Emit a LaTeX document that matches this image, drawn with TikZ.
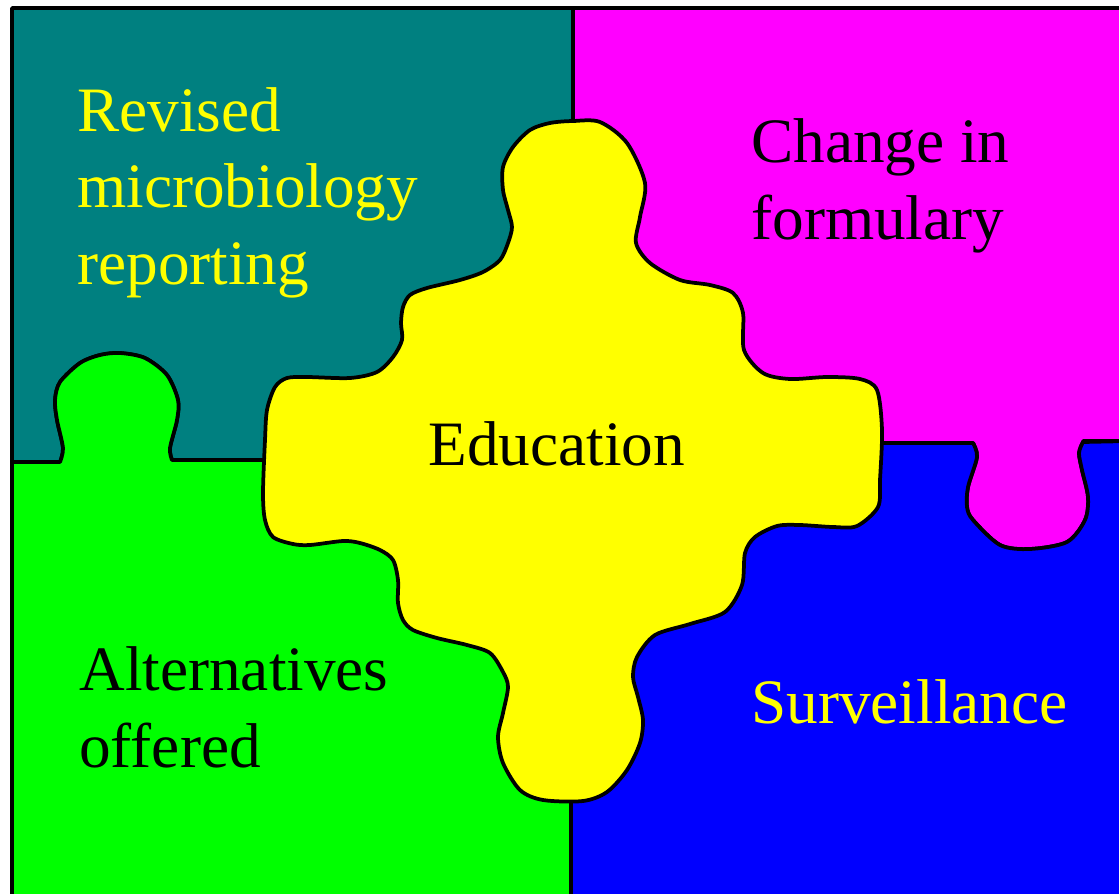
\documentclass[tikz,border=0pt]{standalone}
\usepackage{fontspec}
\setmainfont{Liberation Serif}
\usepackage{tikz}
\usetikzlibrary{positioning}
\usepackage{xcolor}
\definecolor{pzteal}{HTML}{008080}
\definecolor{pzmagenta}{HTML}{FF00FF}
\definecolor{pzgreen}{HTML}{00FF00}
\definecolor{pzblue}{HTML}{0000FF}
\definecolor{pzyellow}{HTML}{FFFF00}

\begin{document}
\begin{tikzpicture}[
    x=0.02cm, y=-0.02cm,
    piece/.style={fill=#1, draw=black, line width=0.075cm, line join=round},
    label/.style={font=\fontsize{36}{43.5}\selectfont, align=left, inner sep=0pt, anchor=base west},
]
\useasboundingbox (0,0) rectangle (1119,893);
\clip (0,0) rectangle (1119,893);
\coordinate (mid) at (571,452);

% top left
\path[piece=pzteal] (12,8) -- (573,8) -- (573,200) -- (mid) -- (300,460) -- (172,460)
    -- plot[smooth] coordinates {(172,460) (170,448) (177,420) (178,400) (167,375) (145,358) (120,353) (100,355) (80,363) (60,382) (55,400) (57,420) (63,448) (60,462)}
    -- (12,462) -- cycle;
% top right
\path[piece=pzmagenta] (573,8) -- (1130,8) -- (1130,441) -- (1083,441)
    -- plot[smooth] coordinates {(1083,442) (1079,453) (1082,470) (1088,497) (1085,520) (1067,542) (1030,549) (1000,545) (973,520) (967,507) (968,487) (977,457) (973,443)}
    -- (850,443) -- (mid) -- (573,200) -- cycle;
% bottom right
\path[piece=pzblue] (mid) -- (850,443) -- (973,443)
    -- plot[smooth] coordinates {(973,443) (977,457) (968,487) (967,507) (973,520) (1000,545) (1030,549) (1067,542) (1085,520) (1088,497) (1082,470) (1079,453) (1083,442)}
    -- (1130,441) -- (1130,905) -- (571,905) -- (571,700) -- cycle;
% bottom left
\path[piece=pzgreen] (mid) -- (571,700) -- (571,905) -- (12,905) -- (12,462) -- (60,462)
    -- plot[smooth] coordinates {(60,462) (63,448) (57,420) (55,400) (60,382) (80,363) (100,355) (120,353) (145,358) (167,375) (178,400) (177,420) (170,448) (172,460)}
    -- (300,460) -- cycle;

% centre piece
\path[piece=pzyellow] plot[smooth cycle] coordinates {
    (573,121) (600,122) (627,143) (645,183) (640,217) (636,243) (650,263) (680,280)
    (710,285) (733,293) (743,313) (744,350) (763,373) (790,379) (827,377) (860,379)
    (877,390) (882,430) (880,480) (878,507) (857,526) (833,527) (800,525) (777,526)
    (755,537) (745,553) (742,585) (725,612) (690,624) (655,635) (637,657) (633,677)
    (638,697) (643,720) (640,743) (627,770) (607,792) (583,801) (543,800) (520,790)
    (503,763) (498,737) (503,713) (508,687) (503,672) (490,653) (467,645) (437,638)
    (413,630) (403,620) (398,603) (398,580) (393,560) (380,550) (360,543) (343,541)
    (310,545) (293,544) (273,537) (265,520) (263,493) (265,440) (267,410) (275,387)
    (287,378) (307,377) (350,378) (377,372) (393,357) (402,340) (401,323) (403,307)
    (410,295) (427,288) (460,280) (483,272) (500,260) (508,243) (512,227) (508,210)
    (503,190) (503,167) (513,147) (530,130) (550,123)};

\node[label, text=pzyellow] (micro) at (77,284) {Revised\\microbiology\\reporting};
\node[label] (formulary) at (751,239) {Change in\\formulary};
\node[label] (educ) at (428,465) {Education};
\node[label] (altern) at (79,767) {Alternatives\\offered};
\node[label, text=pzyellow] (surv) at (751,723) {Surveillance};
\end{tikzpicture}
\end{document}
